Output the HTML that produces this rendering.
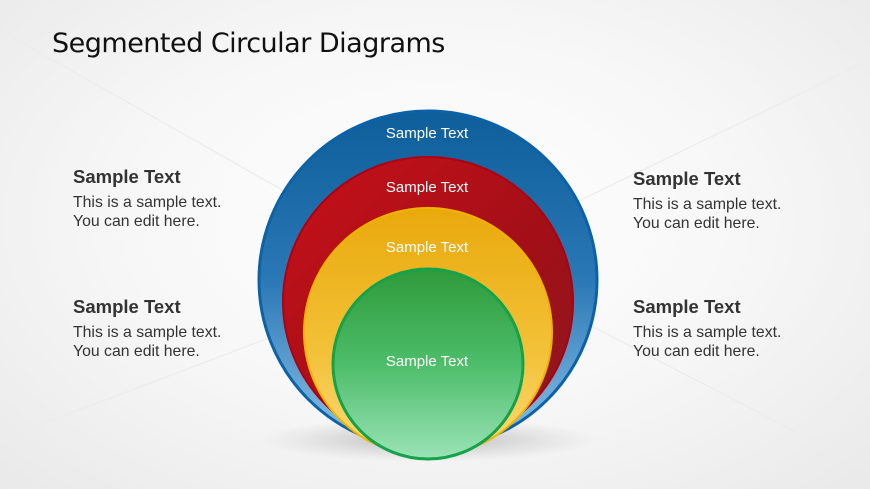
<!DOCTYPE html>
<html><head><meta charset="utf-8"><style>
html,body{margin:0;padding:0}
body{width:870px;height:489px;overflow:hidden;position:relative;font-family:"Liberation Sans",sans-serif;
background:radial-gradient(ellipse at 50% 45%,#ffffff 0%,#f7f7f7 50%,#e9e9e9 100%);}
.t{position:absolute;left:52px;top:28px;font-size:27px;color:#111;font-family:"DejaVu Sans","Liberation Sans",sans-serif;letter-spacing:-0.5px}
.b{position:absolute;color:#333}
.b h{display:block;font-weight:bold;font-size:18.5px;color:#333;margin-bottom:5px}
.b p{margin:0;font-size:15.8px;line-height:19px;color:#333}
</style></head><body>
<svg width="870" height="489" style="position:absolute;left:0;top:0">
<defs>
<linearGradient id="gb" x1="0" y1="0" x2="0" y2="1"><stop offset="0" stop-color="#0d5e9a"/><stop offset="0.5" stop-color="#2a78b5"/><stop offset="1" stop-color="#8ec3e8"/></linearGradient>
<linearGradient id="gr" x1="0" y1="0" x2="1" y2="1"><stop offset="0" stop-color="#c8101a"/><stop offset="0.6" stop-color="#a10f17"/><stop offset="1" stop-color="#8a1a20"/></linearGradient>
<linearGradient id="gy" x1="0" y1="0" x2="0" y2="1"><stop offset="0" stop-color="#e9a90c"/><stop offset="0.6" stop-color="#f3c23a"/><stop offset="1" stop-color="#f9dc78"/></linearGradient>
<linearGradient id="gg" x1="0" y1="0" x2="0" y2="1"><stop offset="0" stop-color="#2e9a3a"/><stop offset="0.5" stop-color="#4dbd6a"/><stop offset="1" stop-color="#9be3b6"/></linearGradient>
<radialGradient id="sh" cx="0.5" cy="0.5" r="0.5"><stop offset="0" stop-color="#999" stop-opacity="0.7"/><stop offset="1" stop-color="#bbb" stop-opacity="0"/></radialGradient>
</defs>
<g stroke="#ececec" stroke-width="1.2"><line x1="0" y1="30" x2="300" y2="200"/><line x1="870" y1="60" x2="560" y2="210"/><line x1="0" y1="440" x2="290" y2="330"/><line x1="870" y1="470" x2="580" y2="320"/></g>
<ellipse cx="428" cy="440" rx="170" ry="22" fill="url(#sh)"/>
<circle cx="428" cy="280" r="169" fill="url(#gb)" stroke="#0c62a8" stroke-width="3"/>
<circle cx="428" cy="302" r="145" fill="url(#gr)" stroke="#b00010" stroke-width="2"/>
<circle cx="428" cy="332" r="124" fill="url(#gy)" stroke="#f0b400" stroke-width="2"/>
<circle cx="428" cy="364" r="95" fill="url(#gg)" stroke="#14a34a" stroke-width="3"/>
<g font-family="Liberation Sans,sans-serif" font-size="15" fill="#fff" text-anchor="middle">
<text x="427" y="138">Sample Text</text>
<text x="427" y="192">Sample Text</text>
<text x="427" y="252">Sample Text</text>
<text x="427" y="366">Sample Text</text>
</g>
</svg>
<div class="t">Segmented Circular Diagrams</div>
<div class="b" style="left:73px;top:166px"><h>Sample Text</h><p>This is a sample text.<br>You can edit here.</p></div>
<div class="b" style="left:73px;top:296px"><h>Sample Text</h><p>This is a sample text.<br>You can edit here.</p></div>
<div class="b" style="left:633px;top:168px"><h>Sample Text</h><p>This is a sample text.<br>You can edit here.</p></div>
<div class="b" style="left:633px;top:296px"><h>Sample Text</h><p>This is a sample text.<br>You can edit here.</p></div>
</body></html>
